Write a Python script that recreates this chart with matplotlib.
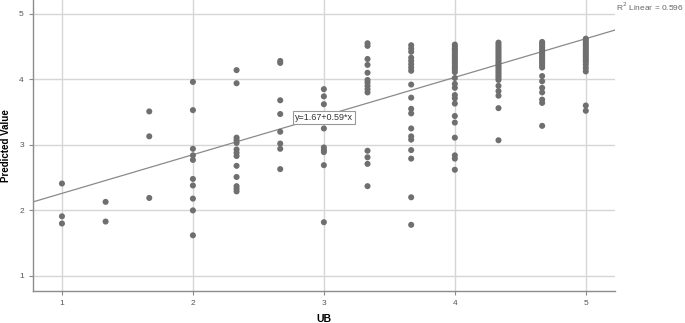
import numpy as np
import matplotlib.pyplot as plt

plt.rcParams['font.family'] = ['Liberation Sans', 'DejaVu Sans']

# UB levels (x) and the predicted values
ub_levels = [1, 4/3, 5/3, 2, 7/3, 8/3, 3, 10/3, 11/3, 4, 13/3, 14/3, 5]
pred_values = [
    [2.41, 1.91, 1.80],
    [2.13, 1.83],
    [3.51, 3.13, 2.19],
    [3.96, 3.53, 2.94, 2.84, 2.77, 2.48, 2.38, 2.18, 2.00, 1.62],
    [4.14, 3.94, 3.11, 3.07, 3.03, 2.93, 2.88, 2.83, 2.68, 2.51, 2.37, 2.33, 2.29],
    [4.28, 4.25, 3.68, 3.47, 3.20, 3.02, 2.94, 2.63],
    [3.85, 3.74, 3.62, 3.25, 2.96, 2.92, 2.89, 2.69, 1.82],
    [4.55, 4.51, 4.31, 4.22, 4.10, 3.99, 3.95, 3.90, 3.85, 3.80, 2.91, 2.81, 2.71, 2.37],
    [4.52, 4.47, 4.42, 4.33, 4.28, 4.23, 4.18, 4.13, 3.92, 3.72, 3.55, 3.48, 3.25,
     3.13, 3.08, 2.92, 2.79, 2.20, 1.78],
    [4.53, 4.50, 4.47, 4.45, 4.42, 4.39, 4.36, 4.33, 4.30, 4.27, 4.24, 4.21, 4.18,
     4.15, 4.11, 4.02, 3.93, 3.87, 3.76, 3.71, 3.63, 3.44, 3.34, 3.11, 2.84, 2.79, 2.62],
    [4.56, 4.53, 4.50, 4.47, 4.44, 4.41, 4.38, 4.35, 4.32, 4.29, 4.26, 4.23, 4.20,
     4.17, 4.14, 4.11, 4.08, 4.05, 4.02, 3.99, 3.90, 3.82, 3.75, 3.56, 3.07],
    [4.57, 4.54, 4.51, 4.48, 4.45, 4.42, 4.39, 4.36, 4.33, 4.30, 4.27, 4.24, 4.21,
     4.18, 4.05, 3.97, 3.87, 3.80, 3.69, 3.64, 3.29],
    [4.62, 4.59, 4.56, 4.53, 4.50, 4.47, 4.44, 4.41, 4.38, 4.35, 4.32, 4.29, 4.26,
     4.22, 4.17, 4.12, 3.60, 3.52],
]
intercept = 1.67
slope = 0.59
r2 = 0.596

xs = []
ys = []
for x, col in zip(ub_levels, pred_values):
    xs += [x] * len(col)
    ys += col

fig = plt.figure(figsize=(6.85, 3.23), dpi=100)
ax = fig.add_axes([0.048, 0.099, 0.85, 0.901])

xlim = (0.778, 5.224)
ax.set_xlim(*xlim)
ax.set_ylim(0.77, 5.21)

ax.set_xticks([1, 2, 3, 4, 5])
ax.set_yticks([1, 2, 3, 4, 5])
ax.grid(True, color='#d6d6d6', linewidth=1.0)
ax.set_axisbelow(True)

ax.scatter(xs, ys, s=19, color='#6f6f6f', edgecolors='none', zorder=3)

# linea de ajuste
lx = np.array(xlim)
ax.plot(lx, intercept + slope * lx, color='#8a8a8a', linewidth=0.9, zorder=2)

ax.text(3.0, 3.42, 'y={:.2f}+{:.2f}*x'.format(intercept, slope), fontsize=6.5,
        ha='center', va='center', color='#333333', zorder=4,
        bbox=dict(facecolor='white', edgecolor='#999999', linewidth=0.8, pad=1.5))

fig.text(616 / 685, 1 - 7 / 323, 'R$^2$ Linear = {:.3f}'.format(r2), fontsize=6,
         color='#666666', ha='left', va='center')

for s in ['top', 'right']:
    ax.spines[s].set_visible(False)
for s in ['left', 'bottom']:
    ax.spines[s].set_color('#8c8c8c')
    ax.spines[s].set_linewidth(1.0)

ax.tick_params(axis='both', labelsize=6, colors='#555555', length=3, width=0.8)
ax.tick_params(axis='both', color='#8c8c8c')

ax.set_xlabel('UB', fontsize=7.5, fontweight='bold', labelpad=5)
ax.set_ylabel('Predicted Value', fontsize=7, fontweight='bold', labelpad=6)

fig.savefig('out.png', dpi=100)
